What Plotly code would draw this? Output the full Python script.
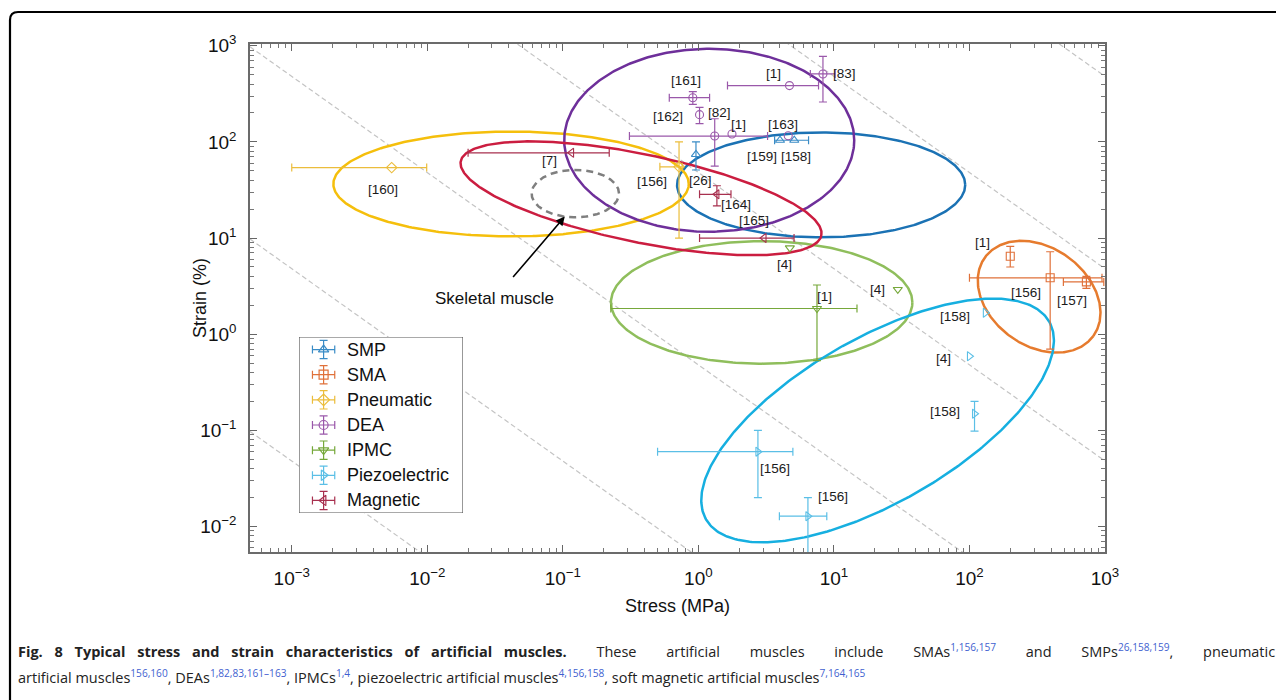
import numpy as np
import plotly.graph_objects as go

# ---------------- data ----------------
categories = ["SMP", "SMA", "Pneumatic", "DEA", "IPMC", "Piezoelectric", "Magnetic"]

smp_refs = ["[159]", "[158]", "[26]"]
smp_stress = [4.0, 5.1, 0.96]
smp_strain = [104, 104, 74]
smp_stress_lo = [None, 3.65, None]
smp_stress_hi = [None, 6.5, None]
smp_strain_lo = [None, None, 51]
smp_strain_hi = [None, None, 100]

sma_refs = ["[1]", "[156]", "[157]"]
sma_stress = [200, 394, 729]
sma_strain = [6.46, 3.86, 3.5]
sma_stress_lo = [None, 100, 493]
sma_stress_hi = [None, 950, 980]
sma_strain_lo = [5.0, 0.70, 3.0]
sma_strain_hi = [8.2, 7.2, 4.0]

pneu_refs = ["[160]", "[156]"]
pneu_stress = [0.00546, 0.72]
pneu_strain = [54, 55]
pneu_stress_lo = [0.001, 0.52]
pneu_stress_hi = [0.0099, 0.76]
pneu_strain_lo = [None, 10]
pneu_strain_hi = [None, 100]

dea_refs = ["[83]", "[1]", "[161]", "[162]", "[82]", "[1]", "[163]"]
dea_stress = [8.3, 4.7, 0.91, 1.02, 1.32, 1.77, 4.6]
dea_strain = [509, 385, 288, 192, 115, 121, 116]
dea_stress_lo = [6.7, 1.64, 0.61, None, 0.31, None, None]
dea_stress_hi = [10.2, 7.7, 1.21, None, 3.24, None, None]
dea_strain_lo = [260, None, 245, 155, 56, None, None]
dea_strain_hi = [776, None, 334, 228, 174, None, None]

ipmc_refs = ["[4]", "[4]", "[1]"]
ipmc_stress = [4.73, 29.6, 7.5]
ipmc_strain = [7.9, 2.92, 1.85]
ipmc_stress_lo = [None, None, 0.226]
ipmc_stress_hi = [None, None, 14.8]
ipmc_strain_lo = [None, None, 0.53]
ipmc_strain_hi = [None, None, 3.25]

piezo_refs = ["[158]", "[4]", "[158]", "[156]", "[156]"]
piezo_stress = [131, 100, 109, 2.75, 6.43]
piezo_strain = [1.67, 0.59, 0.149, 0.06, 0.0128]
piezo_stress_lo = [None, None, None, 0.50, 3.96]
piezo_stress_hi = [None, None, None, 4.98, 8.86]
piezo_strain_lo = [None, None, 0.098, 0.020, 0.001]
piezo_strain_hi = [None, None, 0.20, 0.10, 0.020]

mag_refs = ["[7]", "[164]", "[165]"]
mag_stress = [0.116, 1.37, 3.05]
mag_strain = [77, 28.5, 10]
mag_stress_lo = [0.020, 1.02, 1.02]
mag_stress_hi = [0.22, 1.74, 5.08]
mag_strain_lo = [None, 21.6, None]
mag_strain_hi = [None, 35, None]

# region ellipses (centre values, semi-axes in decades of the stress axis, tilt in degrees)
ellipse_names = ["SMP", "SMA", "Pneumatic", "DEA", "IPMC", "Piezoelectric", "Magnetic", "Skeletal muscle"]
ellipse_center_stress = [8.05, 326.6, 0.0415, 1.202, 2.93, 21.0, 0.3776, 0.1236]
ellipse_center_strain = [35.7, 2.455, 36.5, 104, 2.14, 0.1268, 25.9, 29.0]
ellipse_semi_major = [1.063, 0.494, 1.311, 1.070, 1.112, 1.461, 1.358, 0.3225]
ellipse_semi_minor = [0.387, 0.362, 0.387, 0.675, 0.452, 0.605, 0.325, 0.175]
ellipse_tilt_deg = [0, -36, 0, 0, 0, 30, -11.65, 0]

# constant stress x strain guide lines (MPa x %)
guide_products = [4.8e-5, 4.8e-3, 0.48, 48, 4.8e3, 4.8e5]

x_ticks = [1e-3, 1e-2, 1e-1, 1e0, 1e1, 1e2, 1e3]
x_ticktext = ["10<sup>−3</sup>", "10<sup>−2</sup>", "10<sup>−1</sup>", "10<sup>0</sup>",
              "10<sup>1</sup>", "10<sup>2</sup>", "10<sup>3</sup>"]
y_ticks = [1e-2, 1e-1, 1e0, 1e1, 1e2, 1e3]
y_ticktext = ["10<sup>−2</sup>", "10<sup>−1</sup>", "10<sup>0</sup>", "10<sup>1</sup>",
              "10<sup>2</sup>", "10<sup>3</sup>"]

# ---------------- styles ----------------
PAGE_OFF = 8  # default body margin of the html page
W, H = 1284 - PAGE_OFF, 700 - PAGE_OFF
ML, MT = 250 - PAGE_OFF, 44 - PAGE_OFF
MR = W - (1105 - PAGE_OFF)
MB = H - (552 - PAGE_OFF)
PW, PH = W - ML - MR, H - MT - MB
XR = [-3.308, 3.0]
YR = [-2.265, 3.018]
K = (PH / (YR[1] - YR[0])) / (PW / (XR[1] - XR[0]))  # y px per decade / x px per decade

point_colors = {"SMP": "#3a8cc6", "SMA": "#e0713a", "Pneumatic": "#ebbd3c", "DEA": "#9a58aa",
                "IPMC": "#76a83a", "Piezoelectric": "#5bbfe6", "Magnetic": "#a8304f"}
ellipse_colors = {"SMP": "#1b72b4", "SMA": "#e67b2e", "Pneumatic": "#f5bf0c", "DEA": "#6e2f9a",
                  "IPMC": "#8fbe5c", "Piezoelectric": "#16afe0", "Magnetic": "#cb1d40",
                  "Skeletal muscle": "#7f7f7f"}
symbols = {"SMP": "triangle-up-open", "SMA": "square-open", "Pneumatic": "diamond-open",
           "DEA": "circle-open", "IPMC": "triangle-down-open", "Piezoelectric": "triangle-right-open",
           "Magnetic": "triangle-left-open"}

# label offsets (px, right / down) for the reference tags
label_offsets = {
    "SMP": [(-18, 16), (2, 16), (5, 26)],
    "SMA": [(-28, -14), (-24, 15), (-14, 19)],
    "Pneumatic": [(-9, 22), (-27, 15)],
    "DEA": [(22, 0), (-16, -12), (-7, -17), (-32, 2), (5, -24), (7, -9), (-5, -11)],
    "IPMC": [(-5, 17), (-20, 0), (8, -12)],
    "Piezoelectric": [(-30, 4), (-26, 2), (-30, -2), (17, 17), (25, -20)],
    "Magnetic": [(-22, 8), (19, 10), (-10, -18)],
}

series = {
    "SMP": (smp_refs, smp_stress, smp_strain, smp_stress_lo, smp_stress_hi, smp_strain_lo, smp_strain_hi),
    "SMA": (sma_refs, sma_stress, sma_strain, sma_stress_lo, sma_stress_hi, sma_strain_lo, sma_strain_hi),
    "Pneumatic": (pneu_refs, pneu_stress, pneu_strain, pneu_stress_lo, pneu_stress_hi, pneu_strain_lo, pneu_strain_hi),
    "DEA": (dea_refs, dea_stress, dea_strain, dea_stress_lo, dea_stress_hi, dea_strain_lo, dea_strain_hi),
    "IPMC": (ipmc_refs, ipmc_stress, ipmc_strain, ipmc_stress_lo, ipmc_stress_hi, ipmc_strain_lo, ipmc_strain_hi),
    "Piezoelectric": (piezo_refs, piezo_stress, piezo_strain, piezo_stress_lo, piezo_stress_hi, piezo_strain_lo, piezo_strain_hi),
    "Magnetic": (mag_refs, mag_stress, mag_strain, mag_stress_lo, mag_stress_hi, mag_strain_lo, mag_strain_hi),
}

FONT = "Liberation Sans, Arial, sans-serif"
fig = go.Figure()


def px2paper_x(px):  # page pixel -> paper fraction
    return (px - PAGE_OFF - ML) / PW


def px2paper_y(py):
    return (H - MB - (py - PAGE_OFF)) / PH


# guide lines
gx = [10 ** XR[0], 10 ** XR[1]]
for p in guide_products:
    fig.add_trace(go.Scatter(x=gx, y=[p / v for v in gx], mode="lines", showlegend=False,
                             hoverinfo="skip",
                             line=dict(color="#c4c4c4", width=1.2, dash="5px,3px")))

# ellipses
t = np.linspace(0, 2 * np.pi, 361)
for name, cx, cy, a, b, ang in zip(ellipse_names, ellipse_center_stress, ellipse_center_strain,
                                   ellipse_semi_major, ellipse_semi_minor, ellipse_tilt_deg):
    th = np.deg2rad(ang)
    u = a * np.cos(t) * np.cos(th) - b * np.sin(t) * np.sin(th)
    v = a * np.cos(t) * np.sin(th) + b * np.sin(t) * np.cos(th)
    ex = 10 ** (np.log10(cx) + u)
    ey = 10 ** (np.log10(cy) + v / K)
    skel = name == "Skeletal muscle"
    fig.add_trace(go.Scatter(x=ex, y=ey, mode="lines", showlegend=False, hoverinfo="skip",
                             line=dict(color=ellipse_colors[name], width=2.5,
                                       dash="7px,5px" if skel else "solid")))

# points with error bars (one trace per point so missing bars stay hidden)
annotations = []
for cat in categories:
    refs, sx, sy, xlo, xhi, ylo, yhi = series[cat]
    col = point_colors[cat]
    for i in range(len(sx)):
        ex = None
        ey = None
        if xlo[i] is not None:
            ex = dict(type="data", symmetric=False, array=[xhi[i] - sx[i]],
                      arrayminus=[sx[i] - xlo[i]], color=col, thickness=1.2, width=4)
        if ylo[i] is not None:
            ey = dict(type="data", symmetric=False, array=[yhi[i] - sy[i]],
                      arrayminus=[sy[i] - ylo[i]], color=col, thickness=1.2, width=4)
        fig.add_trace(go.Scatter(x=[sx[i]], y=[sy[i]], mode="markers", showlegend=False,
                                 name=cat, error_x=ex, error_y=ey,
                                 marker=dict(symbol=symbols[cat], size=8, color=col,
                                             line=dict(color=col, width=1.1))))
        dx, dy = label_offsets[cat][i]
        annotations.append(dict(x=np.log10(sx[i]), y=np.log10(sy[i]), xref="x", yref="y",
                                text=refs[i], showarrow=False, xshift=dx, yshift=-dy,
                                font=dict(family=FONT, size=13.5, color="#1a1a1a")))

# skeletal muscle arrow
sk = ellipse_names.index("Skeletal muscle")
tip_x = np.log10(ellipse_center_stress[sk]) - 0.24 * ellipse_semi_major[sk]
tip_y = np.log10(ellipse_center_strain[sk]) - 0.97 * ellipse_semi_minor[sk] / K
annotations.append(dict(x=tip_x, y=tip_y, xref="x", yref="y", ax=-53, ay=62, text="",
                        showarrow=True, arrowhead=2, arrowsize=1.1, arrowwidth=1.6,
                        arrowcolor="#000000"))
annotations.append(dict(x=tip_x, y=tip_y, xref="x", yref="y", xshift=-70, yshift=-82,
                        text="Skeletal muscle", showarrow=False,
                        font=dict(family=FONT, size=17, color="#111111")))

# axis titles
annotations.append(dict(x=0.5, y=px2paper_y(606), xref="paper", yref="paper", text="Stress (MPa)",
                        showarrow=False, xanchor="center", yanchor="middle",
                        font=dict(family=FONT, size=18, color="#111111")))
annotations.append(dict(x=px2paper_x(200), y=0.5, xref="paper", yref="paper", text="Strain (%)",
                        showarrow=False, xanchor="center", yanchor="middle", textangle=-90,
                        font=dict(family=FONT, size=18, color="#111111")))

# custom legend (glyph with error bars) drawn in an overlay axis pair
lg_x0, lg_x1 = px2paper_x(299), px2paper_x(463)
lg_y0, lg_y1 = px2paper_y(513), px2paper_y(337)
n = len(categories)
for i, cat in enumerate(categories):
    ry = (n - 0.5 - i) / n
    col = point_colors[cat]
    fig.add_trace(go.Scatter(x=[0.15], y=[ry], xaxis="x2", yaxis="y2", mode="markers",
                             showlegend=False, hoverinfo="skip",
                             error_x=dict(type="constant", value=0.068, color=col, thickness=1.2, width=4),
                             error_y=dict(type="constant", value=0.052, color=col, thickness=1.2, width=4),
                             marker=dict(symbol=symbols[cat], size=9, color=col,
                                         line=dict(color=col, width=1.2))))
    annotations.append(dict(x=0.28, y=ry, xref="x2", yref="y2", text=cat, showarrow=False,
                            xanchor="left", yanchor="middle",
                            font=dict(family=FONT, size=18, color="#111111")))

# caption (first line justified to the full width, like the printed figure)
blue = "#3f5fd0"


def sup(s):
    return "<sup><span style='color:%s'>%s</span></sup>" % (blue, s)


cap1 = ("<span style='word-spacing:8px'><b>Fig. 8 Typical stress and strain characteristics of artificial muscles.</b></span>"
        "<span style='word-spacing:26px'> These artificial muscles include SMAs" + sup("1,156,157") +
        " and SMPs" + sup("26,158,159") + ", pneumatic</span>")
cap2 = ("artificial muscles" + sup("156,160") + ", DEAs" + sup("1,82,83,161–163") + ", IPMCs" + sup("1,4") +
        ", piezoelectric artificial muscles" + sup("4,156,158") + ", soft magnetic artificial muscles" +
        sup("7,164,165"))
CAPFONT = "Open Sans, Noto Sans, sans-serif"
annotations.append(dict(x=px2paper_x(16), y=px2paper_y(650), xref="paper", yref="paper", text=cap1,
                        showarrow=False, xanchor="left", yanchor="middle",
                        font=dict(family=CAPFONT, size=14.5, color="#222222")))
annotations.append(dict(x=px2paper_x(16), y=px2paper_y(676), xref="paper", yref="paper", text=cap2,
                        showarrow=False, xanchor="left", yanchor="middle",
                        font=dict(family=CAPFONT, size=14.5, color="#222222")))

shapes = [
    dict(type="rect", xref="x2", yref="y2", x0=0, x1=1, y0=0, y1=1,
         line=dict(color="#555555", width=1.2), fillcolor="white", layer="below"),
    dict(type="path", xref="paper", yref="paper",
         path="M %f %f L %f %f Q %f %f %f %f L %f %f" % (
             px2paper_x(1300), px2paper_y(12), px2paper_x(18), px2paper_y(12),
             px2paper_x(10), px2paper_y(12), px2paper_x(10), px2paper_y(20),
             px2paper_x(10), px2paper_y(720)),
         line=dict(color="#000000", width=2.2)),
]

minor_vals = [m * 10.0 ** d for d in range(-4, 4) for m in range(2, 10)]
axis_common = dict(type="log", showline=True, linecolor="#6b6b6b", linewidth=1.5,
                   mirror="allticks", ticks="inside", ticklen=7, tickwidth=1.1, tickcolor="#666666",
                   showgrid=False, zeroline=False, ticklabelstandoff=8,
                   tickfont=dict(family=FONT, size=19, color="#111111"),
                   minor=dict(tickvals=minor_vals, ticks="inside", ticklen=4, tickwidth=1,
                              tickcolor="#777777", showgrid=False))

fig.update_layout(
    width=W, height=H, margin=dict(l=ML, r=MR, t=MT, b=MB, autoexpand=False),
    paper_bgcolor="white", plot_bgcolor="white", showlegend=False,
    xaxis=dict(range=XR, tickvals=x_ticks, ticktext=x_ticktext, **axis_common),
    yaxis=dict(range=YR, tickvals=y_ticks, ticktext=y_ticktext, **axis_common),
    xaxis2=dict(domain=[lg_x0, lg_x1], range=[0, 1], anchor="y2", visible=False, fixedrange=True),
    yaxis2=dict(domain=[lg_y0, lg_y1], range=[0, 1], anchor="x2", visible=False, fixedrange=True),
    annotations=annotations, shapes=shapes,
)

fig.write_html("out.html")
